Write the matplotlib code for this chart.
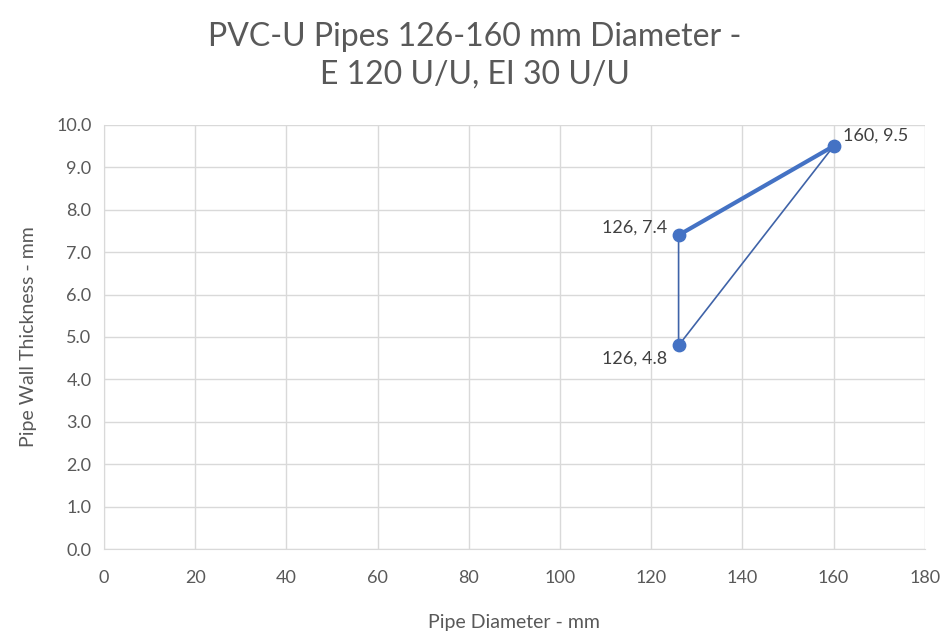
import matplotlib
matplotlib.use("Agg")
import matplotlib.pyplot as plt

# series
thick_x = [126, 160]
thick_y = [7.4, 9.5]
thin_x = [126, 126, 160]
thin_y = [7.4, 4.8, 9.5]
label_pts = [(160, 9.5), (126, 7.4), (126, 4.8)]

x_ticks = list(range(0, 181, 20))
y_ticks = [i * 1.0 for i in range(0, 11)]

blue = "#4472C4"
grey_text = "#595959"
grid_col = "#D9D9D9"

plt.rcParams['font.family'] = ['Lato', 'DejaVu Sans']

fig = plt.figure(figsize=(9.5, 6.37), dpi=100)
ax = fig.add_axes([0.1095, 0.138, 0.864, 0.666])

ax.plot(thin_x, thin_y, color="#3F63A8", lw=1.2, zorder=3)
ax.plot(thick_x, thick_y, color=blue, lw=3, zorder=4)
ax.scatter([p[0] for p in label_pts], [p[1] for p in label_pts], s=80, color=blue, zorder=5)

# data labels
offsets = {(160, 9.5): (7, 2, "left", "bottom"),
           (126, 7.4): (-8, 0, "right", "bottom"),
           (126, 4.8): (-8, -4, "right", "top")}
for px, py in label_pts:
    dx, dy, ha, va = offsets[(px, py)]
    ax.annotate(f"{px}, {py}", (px, py), xytext=(dx, dy), textcoords="offset points",
                ha=ha, va=va, fontsize=13, color="#404040")

ax.set_xlim(0, 180)
ax.set_ylim(0, 10)
ax.set_xticks(x_ticks)
ax.set_yticks(y_ticks)
ax.set_yticklabels([f"{v:.1f}" for v in y_ticks])
ax.grid(True, color=grid_col, lw=1)
ax.set_axisbelow(True)
for side in ["top", "right"]:
    ax.spines[side].set_visible(False)
for side in ["left", "bottom"]:
    ax.spines[side].set_color(grid_col)
ax.tick_params(length=0, labelsize=13, colors=grey_text, pad=9)
ax.tick_params(axis="x", pad=15)

ax.set_xlabel("Pipe Diameter - mm", fontsize=14, color=grey_text, labelpad=20)
ax.set_ylabel("Pipe Wall Thickness - mm", fontsize=14, color=grey_text, labelpad=14)
fig.suptitle("PVC-U Pipes 126-160 mm Diameter -\nE 120 U/U, EI 30 U/U", fontsize=23,
             color=grey_text, y=0.965, linespacing=1.3)

fig.savefig("out.png", dpi=100)
